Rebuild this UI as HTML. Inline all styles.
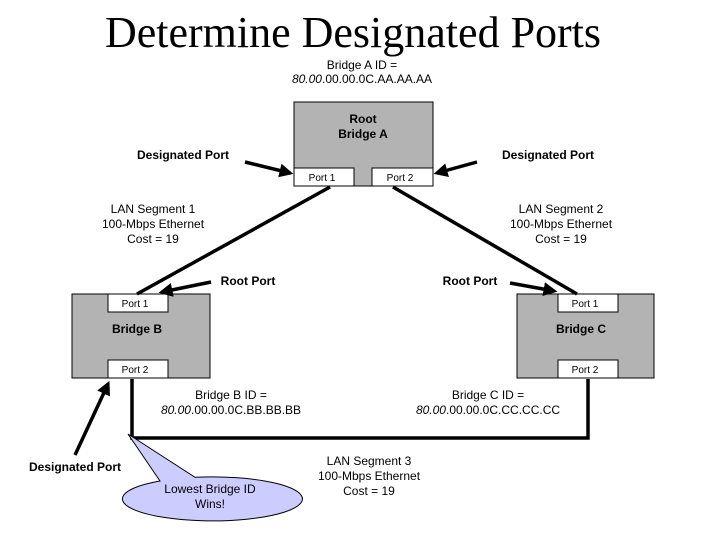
<!DOCTYPE html>
<html><head><style>
body{margin:0;background:#fff}
svg{display:block}
text{font-family:"Liberation Sans",Arial,sans-serif;fill:#000}
</style></head><body>
<svg width="720" height="540" viewBox="0 0 720 540">
<defs>
<marker id="ah" markerWidth="4" markerHeight="4" refX="3" refY="2" orient="auto" markerUnits="strokeWidth">
<path d="M0,0 L4,2 L0,4 z" fill="#000"/></marker>
</defs>
<text x="353" y="47" text-anchor="middle" style="font-family:'Liberation Serif',serif;font-size:44px">Determine Designated Ports</text>
<text x="362" y="69" text-anchor="middle" font-size="12">Bridge A ID =</text>
<text x="362" y="83" text-anchor="middle" font-size="12"><tspan font-style="italic">80.00</tspan>.00.00.0C.AA.AA.AA</text>

<rect x="294" y="102" width="139" height="84" fill="#b3b3b3" stroke="#000"/>
<text x="363" y="123" text-anchor="middle" font-size="12" font-weight="bold">Root</text>
<text x="363" y="138" text-anchor="middle" font-size="12" font-weight="bold">Bridge A</text>
<rect x="294" y="168" width="60" height="18" fill="#fff" stroke="#000"/>
<rect x="372" y="168" width="61" height="18" fill="#fff" stroke="#000"/>
<text x="322" y="181" text-anchor="middle" font-size="10">Port 1</text>
<text x="400" y="181" text-anchor="middle" font-size="10">Port 2</text>

<rect x="72" y="294" width="138" height="84" fill="#b3b3b3" stroke="#000"/>
<rect x="108" y="294" width="60" height="18" fill="#fff" stroke="#000"/>
<rect x="108" y="360" width="60" height="18" fill="#fff" stroke="#000"/>
<text x="135" y="307" text-anchor="middle" font-size="10">Port 1</text>
<text x="135" y="373" text-anchor="middle" font-size="10">Port 2</text>
<text x="137" y="333" text-anchor="middle" font-size="12" font-weight="bold">Bridge B</text>

<rect x="517" y="294" width="137" height="84" fill="#b3b3b3" stroke="#000"/>
<rect x="558" y="294" width="60" height="18" fill="#fff" stroke="#000"/>
<rect x="558" y="360" width="60" height="18" fill="#fff" stroke="#000"/>
<text x="585" y="307" text-anchor="middle" font-size="10">Port 1</text>
<text x="585" y="373" text-anchor="middle" font-size="10">Port 2</text>
<text x="581" y="333" text-anchor="middle" font-size="12" font-weight="bold">Bridge C</text>

<g stroke="#000" stroke-width="3.5" fill="none">
<line x1="330" y1="187" x2="137" y2="294"/>
<line x1="393" y1="187" x2="577" y2="294"/>
<polyline points="132,379 132,438 588,438 588,379"/>
</g>
<g stroke="#000" stroke-width="3.5" marker-end="url(#ah)">
<line x1="245" y1="162" x2="290" y2="173"/>
<line x1="477" y1="162" x2="437" y2="173"/>
<line x1="211" y1="282" x2="162" y2="292"/>
<line x1="510" y1="283" x2="554" y2="291"/>
<line x1="75" y1="455" x2="108" y2="384"/>
</g>

<text x="183" y="159" text-anchor="middle" font-size="12" font-weight="bold">Designated Port</text>
<text x="548" y="159" text-anchor="middle" font-size="12" font-weight="bold">Designated Port</text>
<text x="153" y="213" text-anchor="middle" font-size="12">LAN Segment 1</text>
<text x="153" y="228" text-anchor="middle" font-size="12">100-Mbps Ethernet</text>
<text x="153" y="243" text-anchor="middle" font-size="12">Cost = 19</text>
<text x="561" y="213" text-anchor="middle" font-size="12">LAN Segment 2</text>
<text x="561" y="228" text-anchor="middle" font-size="12">100-Mbps Ethernet</text>
<text x="561" y="243" text-anchor="middle" font-size="12">Cost = 19</text>
<text x="248" y="285" text-anchor="middle" font-size="12" font-weight="bold">Root Port</text>
<text x="470" y="285" text-anchor="middle" font-size="12" font-weight="bold">Root Port</text>
<text x="231" y="399" text-anchor="middle" font-size="12">Bridge B ID =</text>
<text x="231" y="414" text-anchor="middle" font-size="12"><tspan font-style="italic">80.00</tspan>.00.00.0C.BB.BB.BB</text>
<text x="488" y="399" text-anchor="middle" font-size="12">Bridge C ID =</text>
<text x="488" y="414" text-anchor="middle" font-size="12"><tspan font-style="italic">80.00</tspan>.00.00.0C.CC.CC.CC</text>
<text x="75" y="471" text-anchor="middle" font-size="12" font-weight="bold">Designated Port</text>
<text x="369" y="465" text-anchor="middle" font-size="12">LAN Segment 3</text>
<text x="369" y="480" text-anchor="middle" font-size="12">100-Mbps Ethernet</text>
<text x="369" y="495" text-anchor="middle" font-size="12">Cost = 19</text>

<path d="M160,481 L128,434 L195,477.3 A90,22 0 1 1 160,481 Z" fill="#ccccff" stroke="#000"/>
<text x="210" y="493" text-anchor="middle" font-size="12">Lowest Bridge ID</text>
<text x="210" y="508" text-anchor="middle" font-size="12">Wins!</text>
</svg>
</body></html>
